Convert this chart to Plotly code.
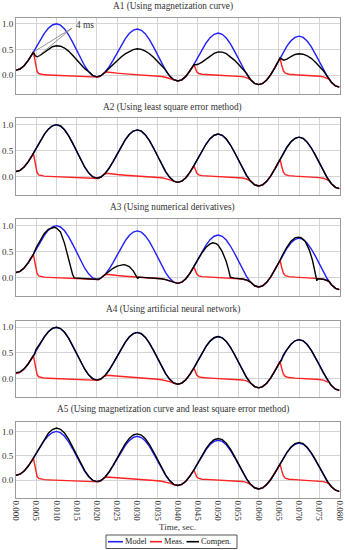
import plotly.graph_objects as go

# ---------------- data ----------------
TIME_GRID = [0.000, 0.001, 0.002, 0.003, 0.004, 0.005, 0.006, 0.007, 0.008, 0.009,
             0.010, 0.011, 0.012, 0.013, 0.014, 0.015, 0.016, 0.017, 0.018, 0.019,
             0.020, 0.021, 0.022, 0.023, 0.024, 0.025, 0.026, 0.027, 0.028, 0.029,
             0.030, 0.031, 0.032, 0.033, 0.034, 0.035, 0.036, 0.037, 0.038, 0.039,
             0.040, 0.041, 0.042, 0.043, 0.044, 0.045, 0.046, 0.047, 0.048, 0.049,
             0.050, 0.051, 0.052, 0.053, 0.054, 0.055, 0.056, 0.057, 0.058, 0.059,
             0.060, 0.061, 0.062, 0.063, 0.064, 0.065, 0.066, 0.067, 0.068, 0.069,
             0.070, 0.071, 0.072, 0.073, 0.074, 0.075, 0.076, 0.077, 0.078, 0.079,
             0.080]

MODEL = [0.100, 0.122, 0.186, 0.285, 0.411, 0.550, 0.689, 0.815, 0.914, 0.978,
         1.000, 0.975, 0.902, 0.788, 0.644, 0.485, 0.326, 0.182, 0.068, -0.005,
         -0.030, -0.007, 0.059, 0.162, 0.291, 0.435, 0.579, 0.708, 0.811, 0.877,
         0.900, 0.875, 0.804, 0.692, 0.551, 0.395, 0.239, 0.098, -0.014, -0.085,
         -0.110, -0.087, -0.021, 0.082, 0.211, 0.355, 0.499, 0.628, 0.731, 0.797,
         0.820, 0.796, 0.725, 0.614, 0.475, 0.320, 0.165, 0.026, -0.085, -0.156,
         -0.180, -0.157, -0.090, 0.014, 0.145, 0.290, 0.435, 0.566, 0.670, 0.737,
         0.760, 0.736, 0.665, 0.556, 0.418, 0.265, 0.112, -0.026, -0.135, -0.206,
         -0.230]

MEAS_T = [0.000, 0.001, 0.002, 0.003, 0.004, 0.0043, 0.0046, 0.0049, 0.0052, 0.0056,
          0.0062, 0.007, 0.008, 0.010, 0.012, 0.014, 0.016, 0.018, 0.019, 0.0197,
          0.0204, 0.021, 0.0217, 0.0224, 0.023, 0.024, 0.025, 0.027, 0.030, 0.032,
          0.034, 0.035, 0.036, 0.037, 0.038, 0.039, 0.040, 0.041, 0.042, 0.043,
          0.044, 0.0443, 0.0447, 0.0452, 0.046, 0.048, 0.050, 0.052, 0.054, 0.055,
          0.056, 0.057, 0.058, 0.059, 0.060, 0.061, 0.062, 0.063, 0.064, 0.065,
          0.0653, 0.0657, 0.0661, 0.0666, 0.0675, 0.069, 0.071, 0.073, 0.074, 0.075,
          0.076, 0.077, 0.0775, 0.078, 0.079, 0.080]
MEAS_V = [0.100, 0.122, 0.186, 0.285, 0.411, 0.450, 0.330, 0.180, 0.080, 0.035,
          0.018, 0.010, 0.006, 0.000, -0.004, -0.010, -0.016, -0.025, -0.032, -0.040,
          -0.035, -0.010, 0.040, 0.065, 0.062, 0.052, 0.042, 0.028, 0.012, 0.004,
          -0.005, -0.012, -0.022, -0.038, -0.060, -0.090, -0.110, -0.087, -0.021, 0.082,
          0.200, 0.150, 0.070, 0.035, 0.020, 0.010, 0.003, -0.003, -0.010, -0.016,
          -0.026, -0.045, -0.085, -0.156, -0.180, -0.157, -0.090, 0.014, 0.145, 0.290,
          0.335, 0.200, 0.090, 0.040, 0.020, 0.010, 0.003, -0.004, -0.010, -0.018,
          -0.030, -0.055, -0.080, -0.135, -0.206, -0.230]

# A1: magnetization curve
COMP1_T = [0.000, 0.001, 0.002, 0.003, 0.004, 0.0043, 0.0048, 0.0053, 0.006, 0.007,
           0.008, 0.009, 0.010, 0.011, 0.012, 0.013, 0.014, 0.015, 0.016, 0.017,
           0.018, 0.019, 0.020, 0.021, 0.022, 0.0228, 0.024, 0.025, 0.026, 0.027,
           0.028, 0.029, 0.030, 0.031, 0.032, 0.033, 0.034, 0.035, 0.036, 0.0368,
           0.038, 0.039, 0.040, 0.041, 0.042, 0.043, 0.044, 0.0445, 0.045, 0.046,
           0.047, 0.048, 0.049, 0.050, 0.051, 0.052, 0.053, 0.054, 0.055, 0.056,
           0.057, 0.058, 0.059, 0.060, 0.061, 0.062, 0.063, 0.064, 0.065, 0.0653,
           0.0662, 0.067, 0.068, 0.069, 0.070, 0.071, 0.072, 0.073, 0.074, 0.075,
           0.076, 0.077, 0.078, 0.079, 0.080]
COMP1_V = [0.100, 0.122, 0.186, 0.285, 0.411, 0.450, 0.375, 0.360, 0.390, 0.450,
           0.510, 0.555, 0.575, 0.565, 0.530, 0.470, 0.390, 0.300, 0.210, 0.130,
           0.068, -0.005, -0.030, -0.007, 0.059, 0.120, 0.210, 0.285, 0.355, 0.415,
           0.465, 0.500, 0.515, 0.505, 0.470, 0.420, 0.350, 0.270, 0.190, 0.125,
           -0.014, -0.085, -0.110, -0.087, -0.021, 0.082, 0.205, 0.205, 0.215, 0.255,
           0.315, 0.375, 0.425, 0.455, 0.450, 0.420, 0.365, 0.295, 0.215, 0.130,
           0.040, -0.085, -0.156, -0.180, -0.157, -0.090, 0.014, 0.145, 0.290, 0.335,
           0.295, 0.315, 0.365, 0.405, 0.420, 0.410, 0.380, 0.330, 0.260, 0.180,
           0.090, -0.020, -0.135, -0.206, -0.230]

# A2: least square error method (coincides with the model)
COMP2_T = TIME_GRID
COMP2_V = MODEL

# A3: numerical derivatives
COMP3_T = [0.000, 0.001, 0.002, 0.003, 0.004, 0.0043, 0.005, 0.006, 0.007, 0.008,
           0.009, 0.0095, 0.010, 0.011, 0.012, 0.0125, 0.013, 0.0135, 0.014, 0.0144,
           0.016, 0.018, 0.019, 0.0197, 0.0204, 0.021, 0.022, 0.023, 0.024, 0.025,
           0.026, 0.0266, 0.027, 0.028, 0.029, 0.0295, 0.0299, 0.0301, 0.0303, 0.032,
           0.034, 0.035, 0.036, 0.037, 0.038, 0.039, 0.040, 0.041, 0.042, 0.043,
           0.044, 0.045, 0.046, 0.047, 0.048, 0.0487, 0.0495, 0.050, 0.051, 0.052,
           0.0525, 0.053, 0.054, 0.055, 0.056, 0.057, 0.058, 0.059, 0.060, 0.061,
           0.062, 0.063, 0.064, 0.065, 0.0653, 0.066, 0.067, 0.068, 0.069, 0.0698,
           0.0705, 0.0715, 0.0725, 0.0733, 0.0738, 0.0742, 0.0744, 0.0746, 0.076, 0.077,
           0.0775, 0.078, 0.079, 0.080]
COMP3_V = [0.100, 0.122, 0.186, 0.285, 0.411, 0.450, 0.580, 0.730, 0.850, 0.930,
           0.965, 0.970, 0.955, 0.880, 0.660, 0.500, 0.340, 0.190, 0.060, -0.005,
           -0.016, -0.025, -0.032, -0.040, -0.035, -0.007, 0.059, 0.125, 0.180, 0.222,
           0.245, 0.250, 0.247, 0.215, 0.130, 0.065, 0.000, -0.020, 0.010, 0.004,
           -0.005, -0.012, -0.022, -0.038, -0.060, -0.090, -0.110, -0.087, -0.021, 0.082,
           0.205, 0.350, 0.480, 0.585, 0.650, 0.670, 0.655, 0.625, 0.500, 0.310,
           0.170, 0.010, -0.010, -0.016, -0.026, -0.045, -0.085, -0.156, -0.180, -0.157,
           -0.090, 0.014, 0.145, 0.290, 0.335, 0.450, 0.590, 0.700, 0.765, 0.780,
           0.770, 0.700, 0.540, 0.340, 0.170, 0.000, -0.060, -0.020, -0.030, -0.055,
           -0.080, -0.135, -0.206, -0.230]

# A4: artificial neural network
COMP4_T = [0.000, 0.0005, 0.001, 0.002, 0.003, 0.004, 0.0043, 0.0046, 0.0049, 0.0053,
           0.006, 0.007, 0.008, 0.009, 0.010, 0.011, 0.012, 0.013, 0.014, 0.015,
           0.016, 0.017, 0.018, 0.019, 0.020, 0.021, 0.022, 0.023, 0.024, 0.025,
           0.026, 0.027, 0.028, 0.029, 0.030, 0.031, 0.032, 0.033, 0.034, 0.035,
           0.036, 0.037, 0.038, 0.039, 0.040, 0.041, 0.042, 0.043, 0.044, 0.045,
           0.046, 0.047, 0.048, 0.049, 0.050, 0.051, 0.052, 0.053, 0.054, 0.055,
           0.056, 0.057, 0.058, 0.059, 0.060, 0.061, 0.062, 0.063, 0.064, 0.065,
           0.0653, 0.0656, 0.0660, 0.0665, 0.067, 0.068, 0.069, 0.070, 0.071, 0.072,
           0.073, 0.074, 0.075, 0.076, 0.077, 0.078, 0.079, 0.080]
COMP4_V = [0.115, 0.118, 0.130, 0.190, 0.285, 0.411, 0.450, 0.470, 0.560, 0.615,
           0.689, 0.815, 0.914, 0.978, 1.000, 0.975, 0.902, 0.788, 0.644, 0.485,
           0.326, 0.182, 0.068, -0.005, -0.030, -0.007, 0.059, 0.162, 0.291, 0.435,
           0.579, 0.708, 0.811, 0.877, 0.900, 0.875, 0.804, 0.692, 0.551, 0.395,
           0.239, 0.098, -0.014, -0.085, -0.110, -0.087, -0.021, 0.082, 0.211, 0.355,
           0.499, 0.628, 0.731, 0.797, 0.820, 0.796, 0.725, 0.614, 0.475, 0.320,
           0.165, 0.026, -0.085, -0.156, -0.180, -0.157, -0.090, 0.014, 0.145, 0.290,
           0.330, 0.345, 0.440, 0.510, 0.566, 0.670, 0.737, 0.760, 0.736, 0.665,
           0.556, 0.418, 0.265, 0.112, -0.026, -0.135, -0.206, -0.230]

# A5: magnetization curve and least square error method
COMP5_T = TIME_GRID
COMP5_V = [0.100, 0.122, 0.186, 0.285, 0.411, 0.550, 0.704, 0.850, 0.964, 1.040,
           1.070, 1.045, 0.967, 0.843, 0.689, 0.520, 0.351, 0.197, 0.076, -0.003,
           -0.030, -0.007, 0.059, 0.167, 0.303, 0.455, 0.609, 0.746, 0.856, 0.927,
           0.950, 0.925, 0.849, 0.732, 0.583, 0.420, 0.257, 0.108, -0.009, -0.085,
           -0.110, -0.087, -0.021, 0.082, 0.211, 0.360, 0.511, 0.648, 0.759, 0.830,
           0.855, 0.831, 0.757, 0.641, 0.495, 0.335, 0.175, 0.031, -0.085, -0.156,
           -0.180, -0.157, -0.090, 0.014, 0.145, 0.290, 0.438, 0.572, 0.680, 0.750,
           0.775, 0.751, 0.678, 0.566, 0.426, 0.270, 0.115, -0.025, -0.135, -0.206,
           -0.230]

PANEL_TITLES = ["A1 (Using magnetization curve)",
                "A2 (Using least square error method)",
                "A3 (Using numerical derivatives)",
                "A4 (Using artificial neural network)",
                "A5 (Using magnetization curve and least square error method)"]
SERIES_NAMES = ["Model", "Meas.", "Compen."]
Y_TICKS = [0.0, 0.5, 1.0]
Y_TICK_LABELS = ["0.0", "0.5", "1.0"]
ANNOT_TEXT = "4 ms"

COMPS = [(COMP1_T, COMP1_V), (COMP2_T, COMP2_V), (COMP3_T, COMP3_V),
         (COMP4_T, COMP4_V), (COMP5_T, COMP5_V)]

# ---------------- styling / layout ----------------
W, H = 345, 550
FONT = "Liberation Serif"
BLUE, RED, BLACK = "#1f1fff", "#ff2020", "#000000"
GRID, FRAME = "#d4d4d4", "#9a9a9a"
LW = 1.4

PLOT_L, PLOT_R = 16, 339.5
PANEL_PX = [(17.5, 93.5), (118.3, 195.0), (219.3, 296.0), (321.0, 396.7), (421.7, 497.7)]
TITLE_PX = [6.5, 107, 207.5, 309, 409.5]


def fx(p):
    return p / W


def fy(p):
    return 1 - p / H


fig = go.Figure()
layout = dict(width=W, height=H, margin=dict(l=0, r=0, t=0, b=0),
              paper_bgcolor="white", plot_bgcolor="white", showlegend=False,
              font=dict(family=FONT, size=9, color="#333"))
annotations, shapes = [], []

for i in range(5):
    n = "" if i == 0 else str(i + 1)
    xa, ya = "x" + n, "y" + n
    ct, cv = COMPS[i]
    vals = MODEL + MEAS_V + list(cv)
    lo, hi = min(vals), max(vals)
    pad = 0.1 * (hi - lo)
    fig.add_trace(go.Scatter(x=TIME_GRID, y=MODEL, mode="lines", name=SERIES_NAMES[0],
                             line=dict(color=BLUE, width=LW), xaxis=xa, yaxis=ya))
    fig.add_trace(go.Scatter(x=MEAS_T, y=MEAS_V, mode="lines", name=SERIES_NAMES[1],
                             line=dict(color=RED, width=LW), xaxis=xa, yaxis=ya))
    fig.add_trace(go.Scatter(x=ct, y=cv, mode="lines", name=SERIES_NAMES[2],
                             line=dict(color=BLACK, width=LW), xaxis=xa, yaxis=ya))
    top, bot = PANEL_PX[i]
    layout["xaxis" + n] = dict(domain=[fx(PLOT_L), fx(PLOT_R)], anchor=ya,
                               range=[TIME_GRID[0], TIME_GRID[-1]], tick0=0, dtick=0.005,
                               showgrid=True, gridcolor=GRID, gridwidth=1, zeroline=False,
                               showline=True, mirror=True, linecolor=FRAME, linewidth=1,
                               ticks="", showticklabels=(i == 4), tickformat=".3f",
                               tickangle=90, tickfont=dict(size=9, color="#333"),
                               automargin=False)
    layout["yaxis" + n] = dict(domain=[fy(bot), fy(top)], anchor=xa,
                               range=[lo - pad, hi + pad], tickvals=Y_TICKS,
                               ticktext=Y_TICK_LABELS, showgrid=True, gridcolor=GRID,
                               gridwidth=1, zeroline=False, showline=True, mirror=True,
                               linecolor=FRAME, linewidth=1, ticks="",
                               tickfont=dict(size=9, color="#333"), automargin=False)
    annotations.append(dict(text=PANEL_TITLES[i], xref="paper", yref="paper",
                            x=fx(172.5), y=fy(TITLE_PX[i]), xanchor="center",
                            yanchor="middle", showarrow=False,
                            font=dict(family=FONT, size=9.3, color="#333")))

# "4 ms" annotation in A1 (points taken from the measured / compensated arrays)
spike_i = MEAS_V.index(max(MEAS_V[:10]))
dip_i = 7
label_t, label_v = 0.0171, 0.97
end_t, end_v = 0.0138, 0.915
shapes.append(dict(type="line", xref="x", yref="y", x0=MEAS_T[spike_i], y0=MEAS_V[spike_i],
                   x1=end_t, y1=end_v, line=dict(color="#777", width=0.8)))
shapes.append(dict(type="line", xref="x", yref="y", x0=COMP1_T[dip_i], y0=COMP1_V[dip_i],
                   x1=end_t, y1=end_v, line=dict(color="#777", width=0.8)))
annotations.append(dict(text=ANNOT_TEXT, xref="x", yref="y", x=label_t, y=label_v,
                        showarrow=False, xanchor="center", yanchor="middle",
                        font=dict(family=FONT, size=9.3, color="#333")))

# x-axis title
annotations.append(dict(text="Time, sec.", xref="paper", yref="paper",
                        x=fx((PLOT_L + PLOT_R) / 2), y=fy(527), xanchor="center",
                        yanchor="middle", showarrow=False,
                        font=dict(family=FONT, size=9, color="#333")))

# legend (boxed, bottom)
LEG_Y = 541.7
shapes.append(dict(type="rect", xref="paper", yref="paper", x0=fx(106), x1=fx(237),
                   y0=fy(548.5), y1=fy(535), line=dict(color="#555", width=1),
                   fillcolor="white"))
leg_items = [(BLUE, 108, 123, 124.5), (RED, 150, 162, 163.5), (BLACK, 186.5, 199, 200.5)]
for (col, l0, l1, tx), name in zip(leg_items, SERIES_NAMES):
    shapes.append(dict(type="line", xref="paper", yref="paper", x0=fx(l0), x1=fx(l1),
                       y0=fy(LEG_Y), y1=fy(LEG_Y), line=dict(color=col, width=1.6)))
    annotations.append(dict(text=name, xref="paper", yref="paper", x=fx(tx), y=fy(LEG_Y),
                            xanchor="left", yanchor="middle", showarrow=False,
                            borderpad=0, xshift=-1,
                            font=dict(family=FONT, size=8.3, color="#222")))

layout["annotations"] = annotations
layout["shapes"] = shapes
fig.update_layout(**layout)
fig.write_html("out.html", config={"displayModeBar": False},
               post_script="document.body.style.margin='0';document.body.style.overflow='hidden';")
